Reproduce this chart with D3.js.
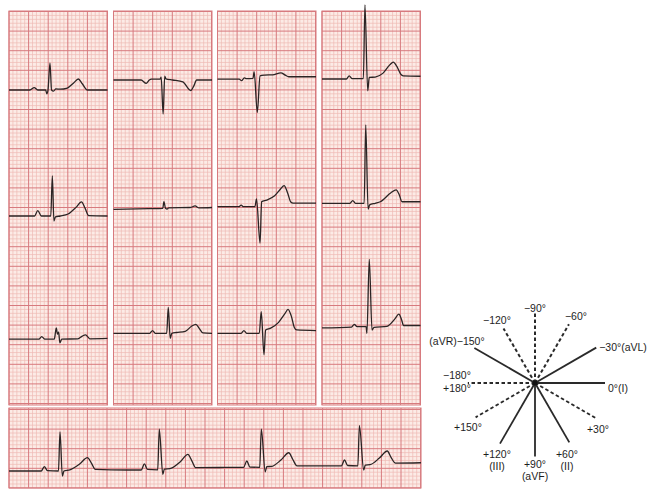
<!DOCTYPE html>
<html><head><meta charset="utf-8">
<script src="https://cdn.jsdelivr.net/npm/d3@7"></script>
<style>html,body{margin:0;padding:0;background:#fff;}svg{display:block;}</style>
</head><body>
<svg id="c" width="664" height="501"></svg>
<script>
// ---------- DATA (x = time in mm boxes, y = amplitude in mm boxes) ----------
const leadNames = ["I","II","III","aVR","aVL","aVF","V1","V2","V3","V4","V5","V6"];
const leadI   = [[0,0],[5.3,0],[6.4,0.6],[7.3,0],[9.3,0],[9.6,-1.0],[9.9,0],[10.4,6.9],[10.8,0],[11.3,-0.3],[11.9,0.3],[13,0.2],[14.8,0.5],[16.4,1.8],[17.6,2.8],[18.6,1.6],[19.9,0],[25,0]];
const leadII  = [[0,0],[6.5,0],[7.3,1.35],[8.2,0],[10.6,0],[11,10.2],[11.4,-1.3],[11.8,-0.2],[13,0],[15,0.5],[17,2.2],[18.4,3.6],[19.3,2],[20.2,0.1],[25,0]];
const leadIII = [[0,0.2],[7.6,0.2],[8.3,0.85],[9.1,0.2],[11.5,0.2],[11.8,2],[12.0,3.1],[12.3,1.5],[12.6,2.0],[12.9,-0.7],[13.4,0.2],[17.5,0.3],[18.6,1],[19.4,1.3],[20,0.8],[20.5,0.3],[25,0.4]];
const leadAVR = [[0,0],[7,0],[8.3,-0.85],[9.1,0],[9.6,0.2],[11.8,0.2],[12.1,0.7],[12.6,-8.7],[13.0,1],[13.3,0.3],[15,0],[17.6,-0.5],[19.6,-2.7],[20.4,-1.5],[21.1,0],[25,0]];
const leadAVL = [[0,-0.25],[9,-0.1],[12.5,0],[12.8,1.7],[13.2,0],[13.6,-0.2],[14,0.1],[19.5,0.2],[20.7,0.6],[21.7,0.1],[25,0.2]];
const leadAVF = [[0,0],[9.2,0],[9.9,0.7],[10.6,0],[13.5,0],[13.9,6.6],[14.4,-1.3],[14.8,0],[16,0.2],[18.2,0.5],[19.8,1.8],[20.9,2.3],[21.8,1.2],[22.7,0.1],[25,0]];
const leadV1  = [[0,-0.2],[5.5,-0.2],[6.1,-0.6],[6.8,0.1],[7.4,-0.1],[9.0,0],[9.3,1.7],[10.1,-8.7],[10.8,0.6],[12,0.8],[14,0.9],[16.1,1.4],[17.2,0.8],[18.1,0.4],[25,0.4]];
const leadV2  = [[0,0],[5.4,0],[6,0.4],[6.6,0],[9.5,0],[9.9,2],[10.8,-9.3],[11.2,1.3],[12.5,1.7],[14.5,2.8],[16,4.5],[16.9,5.4],[17.8,3.5],[18.6,1.2],[19.2,0.9],[25,0.9]];
const leadV3  = [[0,0],[6,0],[6.7,0.7],[7.4,0],[10.6,0],[11.1,5.5],[11.8,-5.5],[12.2,0.85],[13.5,1.3],[15.5,2.8],[17.1,5],[17.9,6.1],[18.7,4.5],[19.5,1.5],[20.1,0.85],[25,0.7]];
const leadV4  = [[0,0],[6.2,0],[6.9,0.8],[7.6,0.1],[10.5,0.1],[10.9,18.9],[11.6,-3],[12,0.4],[13.5,0.5],[15.5,1.5],[17.2,3.6],[18.1,4.3],[19,3.2],[20,1.2],[20.6,0.8],[25,0.7]];
const leadV5  = [[0,0],[7.1,0],[7.8,0.7],[8.5,0],[10.7,0],[11.1,20],[11.7,-1.5],[12.1,-0.4],[13.5,0],[14.8,0.4],[17.5,2.7],[18.8,3.4],[19.6,2.2],[20.3,0.4],[25,0.4]];
const leadV6  = [[0,-0.3],[7.5,-0.1],[8.2,0.6],[8.9,0],[11.2,0],[11.4,-1.7],[12,17.2],[12.7,-0.85],[13.2,-0.2],[16.5,0.1],[18.5,2],[19.5,3.2],[20.2,1.8],[20.7,0.3],[25,0.3]];
const rhythmII = [[0,0],[8.2,0],[9,1.1],[9.8,0.1],[12.6,0],[13,10],[13.6,-1.3],[14,0],[15.5,0.3],[18,1.8],[20,3.4],[21,2],[22,0.4],[30,0.25],
  [33.7,0.25],[34.5,1.8],[35.3,0.4],[37.9,0.3],[38.3,10.7],[39.2,-0.85],[39.6,0.5],[41,0.6],[43.6,2.3],[45.6,4.25],[46.6,2.6],[47.6,0.85],[55,0.9],
  [59.8,0.95],[60.6,2.55],[61.4,1],[63.9,0.95],[64.3,10.7],[65.3,-0.2],[65.7,1.1],[67,1.2],[69.3,2.8],[71.3,4.65],[72.3,3],[73.4,1.3],[80,1.3],
  [84.7,1.3],[85.5,2.8],[86.3,1.4],[88.9,1.3],[89.3,11.6],[90.4,0.25],[90.8,1.5],[92,1.6],[94.4,3.3],[96.4,5.1],[97.4,3.4],[98.5,2],[105,2.1]];
const leadData = [leadI,leadII,leadIII,leadAVR,leadAVL,leadAVF,leadV1,leadV2,leadV3,leadV4,leadV5,leadV6];

// hexaxial reference
const axisAngles = [0, 30, 60, 90, 120, 150, 180, -30, -60, -90, -120, -150];
const axisSolid  = [true, false, true, true, true, false, false, true, false, false, false, true];
const axisLabels = ["0°(I)","+30°","+60°","+90°","+120°","+150°","−180°","−30°(aVL)","−60°","−90°","−120°","(aVR)−150°"];
const axisSubLabels = ["","","(II)","(aVF)","(III)","","+180°","","","","",""];

// ---------- LAYOUT ----------
const MM = 3.92;
const svg = d3.select("#c");
const panelTop = 11, panelBottom = 405, panelW = 98.5;
const colLefts = [9, 113.5, 217.5, 322];
const baselines = [90,216,340, 80,208.3,333.3, 78.3,206.7,333.3, 79,203.3,326.7];
const strip = {left:9, right:421, top:408, bottom:488, baseline:471};

function drawGrid(x0, x1, y0, y1, yOff){
  const g = svg.append("g");
  g.append("rect").attr("x",x0).attr("y",y0).attr("width",x1-x0).attr("height",y1-y0).attr("fill","#fcebe6");
  const xs = d3.scaleLinear().domain([0,(x1-x0)/MM]).range([x0,x1]);
  const ys = d3.scaleLinear().domain([0,(y1-y0)/MM]).range([y0,y1]);
  const xt = d3.range(0, Math.floor((x1-x0)/MM)+1);
  const yt = d3.range(0, Math.floor((y1-y0-yOff)/MM)+1).map(v=>v+yOff/MM);
  g.selectAll(".vm").data(xt.filter(v=>v%5)).join("line")
    .attr("x1",d=>xs(d)).attr("x2",d=>xs(d)).attr("y1",y0).attr("y2",y1)
    .attr("stroke","#efbab5").attr("stroke-width",0.7);
  g.selectAll(".hm").data(yt.filter((v,i)=>i%5)).join("line")
    .attr("y1",d=>ys(d)).attr("y2",d=>ys(d)).attr("x1",x0).attr("x2",x1)
    .attr("stroke","#efbab5").attr("stroke-width",0.7);
  g.selectAll(".vM").data(xt.filter(v=>v%5===0)).join("line")
    .attr("x1",d=>xs(d)).attr("x2",d=>xs(d)).attr("y1",y0).attr("y2",y1)
    .attr("stroke","#d77a7e").attr("stroke-width",1);
  g.selectAll(".hM").data(yt.filter((v,i)=>i%5===0)).join("line")
    .attr("y1",d=>ys(d)).attr("y2",d=>ys(d)).attr("x1",x0).attr("x2",x1)
    .attr("stroke","#d77a7e").attr("stroke-width",1);
  g.append("rect").attr("x",x0).attr("y",y0).attr("width",x1-x0).attr("height",y1-y0)
    .attr("fill","none").attr("stroke","#d77a7e").attr("stroke-width",1);
}

colLefts.forEach(l=>drawGrid(l, l+panelW, panelTop, panelBottom, 0.5));
drawGrid(strip.left, strip.right, strip.top, strip.bottom, 1.5);

function drawTrace(data, left, width, baseline, span){
  const x = d3.scaleLinear().domain([0,span]).range([left,left+width]);
  const y = d3.scaleLinear().domain([0,10]).range([baseline, baseline-10*MM]);
  const line = d3.line().x(d=>x(d[0])).y(d=>y(d[1])).curve(d3.curveMonotoneX);
  svg.append("path").datum(data).attr("d",line).attr("fill","none")
    .attr("stroke","#2b2424").attr("stroke-width",1.3).attr("stroke-linejoin","round");
}
leadData.forEach((d,i)=>{
  const col = Math.floor(i/3);
  drawTrace(d, colLefts[col], panelW, baselines[i], 25);
});
drawTrace(rhythmII, strip.left, strip.right-strip.left, strip.baseline, 105);

// ---------- HEXAXIAL ----------
const cx = 535, cy = 383;
const r = d3.scaleLinear().domain([0,1]).range([0,70]);
const axisLen = [1, 1.02, 0.98, 1.05, 1, 0.98, 0.96, 1.01, 0.97, 1, 0.9, 1];
const labelOff = [[83,5],[63,46],[32,71],[0,81],[-38,71],[-67,44],[-78,-8],[88,-36],[41,-67],[0,-75],[-38,-63],[-78,-42]];
const hx = svg.append("g");
axisAngles.forEach((a,i)=>{
  const rad = a*Math.PI/180;
  hx.append("line").attr("x1",cx).attr("y1",cy)
    .attr("x2",cx+r(axisLen[i])*Math.cos(rad)).attr("y2",cy+r(axisLen[i])*Math.sin(rad))
    .attr("stroke","#2a2a2a")
    .attr("stroke-width", axisSolid[i]?1.8:2)
    .attr("stroke-dasharray", axisSolid[i]?null:"3.5,2.5");
});
axisAngles.forEach((a,i)=>{
  hx.append("text").attr("x",cx+labelOff[i][0]).attr("y",cy+labelOff[i][1])
    .attr("text-anchor","middle").attr("dominant-baseline","central")
    .attr("font-family","Liberation Sans, Arial, sans-serif").attr("font-size",10.5)
    .attr("fill","#1e1e1e").text(axisLabels[i]);
  if(axisSubLabels[i]){
    hx.append("text").attr("x",cx+labelOff[i][0]).attr("y",cy+labelOff[i][1]+(i===6?13:12))
      .attr("text-anchor","middle").attr("dominant-baseline","central")
      .attr("font-family","Liberation Sans, Arial, sans-serif").attr("font-size",10.5)
      .attr("fill","#1e1e1e").text(axisSubLabels[i]);
  }
});
hx.append("circle").attr("cx",cx).attr("cy",cy).attr("r",2.5).attr("fill","#111");
</script>
</body></html>
